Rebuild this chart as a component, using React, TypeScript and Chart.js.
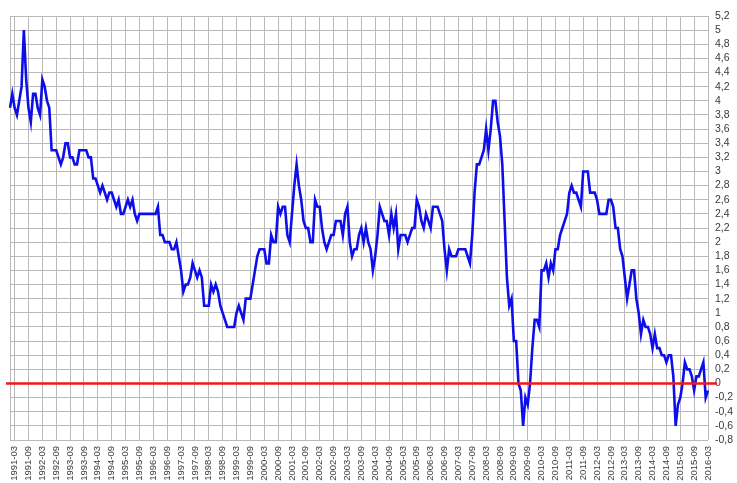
import React, { useEffect, useRef } from 'react';
import { Chart, registerables } from 'chart.js';

Chart.register(...registerables);

// Monthly values, January to December of each year
const Y1991 = [3.9, 4.1, 3.9, 3.8, 4.0, 4.2, 5.0, 4.3, 3.9, 3.7, 4.1, 4.1];
const Y1992 = [3.9, 3.8, 4.3, 4.2, 4.0, 3.9, 3.3, 3.3, 3.3, 3.2, 3.1, 3.2];
const Y1993 = [3.4, 3.4, 3.2, 3.2, 3.1, 3.1, 3.3, 3.3, 3.3, 3.3, 3.2, 3.2];
const Y1994 = [2.9, 2.9, 2.8, 2.7, 2.8, 2.7, 2.6, 2.7, 2.7, 2.6, 2.5, 2.6];
const Y1995 = [2.4, 2.4, 2.5, 2.6, 2.5, 2.6, 2.4, 2.3, 2.4, 2.4, 2.4, 2.4];
const Y1996 = [2.4, 2.4, 2.4, 2.4, 2.5, 2.1, 2.1, 2.0, 2.0, 2.0, 1.9, 1.9];
const Y1997 = [2.0, 1.8, 1.6, 1.3, 1.4, 1.4, 1.5, 1.7, 1.6, 1.5, 1.6, 1.5];
const Y1998 = [1.1, 1.1, 1.1, 1.4, 1.3, 1.4, 1.3, 1.1, 1.0, 0.9, 0.8, 0.8];
const Y1999 = [0.8, 0.8, 1.0, 1.1, 1.0, 0.9, 1.2, 1.2, 1.2, 1.4, 1.6, 1.8];
const Y2000 = [1.9, 1.9, 1.9, 1.7, 1.7, 2.1, 2.0, 2.0, 2.5, 2.4, 2.5, 2.5];
const Y2001 = [2.1, 2.0, 2.4, 2.8, 3.1, 2.8, 2.6, 2.3, 2.2, 2.2, 2.0, 2.0];
const Y2002 = [2.6, 2.5, 2.5, 2.2, 2.0, 1.9, 2.0, 2.1, 2.1, 2.3, 2.3, 2.3];
const Y2003 = [2.1, 2.4, 2.5, 2.0, 1.8, 1.9, 1.9, 2.1, 2.2, 2.0, 2.2, 2.0];
const Y2004 = [1.9, 1.6, 1.8, 2.1, 2.5, 2.4, 2.3, 2.3, 2.1, 2.4, 2.2, 2.4];
const Y2005 = [1.9, 2.1, 2.1, 2.1, 2.0, 2.1, 2.2, 2.2, 2.6, 2.5, 2.3, 2.2];
const Y2006 = [2.4, 2.3, 2.2, 2.5, 2.5, 2.5, 2.4, 2.3, 1.9, 1.6, 1.9, 1.8];
const Y2007 = [1.8, 1.8, 1.9, 1.9, 1.9, 1.9, 1.8, 1.7, 2.1, 2.7, 3.1, 3.1];
const Y2008 = [3.2, 3.3, 3.6, 3.3, 3.6, 4.0, 4.0, 3.7, 3.5, 3.1, 2.3, 1.5];
const Y2009 = [1.1, 1.2, 0.6, 0.6, 0.0, -0.1, -0.6, -0.2, -0.3, 0.0, 0.5, 0.9];
const Y2010 = [0.9, 0.8, 1.6, 1.6, 1.7, 1.5, 1.7, 1.6, 1.9, 1.9, 2.1, 2.2];
const Y2011 = [2.3, 2.4, 2.7, 2.8, 2.7, 2.7, 2.6, 2.5, 3.0, 3.0, 3.0, 2.7];
const Y2012 = [2.7, 2.7, 2.6, 2.4, 2.4, 2.4, 2.4, 2.6, 2.6, 2.5, 2.2, 2.2];
const Y2013 = [1.9, 1.8, 1.5, 1.2, 1.4, 1.6, 1.6, 1.2, 1.0, 0.7, 0.9, 0.8];
const Y2014 = [0.8, 0.7, 0.5, 0.7, 0.5, 0.5, 0.4, 0.4, 0.3, 0.4, 0.4, 0.1];
const Y2015 = [-0.6, -0.3, -0.2, 0.0, 0.3, 0.2, 0.2, 0.1, -0.1, 0.1, 0.1, 0.2];
const Y2016 = [0.3, -0.2, -0.1];

const SERIES = [
  ...Y1991, ...Y1992, ...Y1993, ...Y1994, ...Y1995, ...Y1996, ...Y1997,
  ...Y1998, ...Y1999, ...Y2000, ...Y2001, ...Y2002, ...Y2003, ...Y2004,
  ...Y2005, ...Y2006, ...Y2007, ...Y2008, ...Y2009, ...Y2010, ...Y2011,
  ...Y2012, ...Y2013, ...Y2014, ...Y2015, ...Y2016,
];

const START_YEAR = 1991;
const CATEGORIES = SERIES.map(
  (_, i) => `${START_YEAR + Math.floor(i / 12)}-${String((i % 12) + 1).padStart(2, '0')}`
);
const LABELED_MONTHS = ['03', '09'];

const Y_MIN = -0.8;
const Y_MAX = 5.2;
const Y_STEP = 0.2;
const ZERO_LINE = 0;

const GRID = '#b9b9b9';
const TEXT = '#3a3a3a';

const zeroLinePlugin = {
  id: 'zeroLine',
  afterDatasetsDraw(chart: any) {
    const { ctx, chartArea, scales } = chart;
    const y = scales.y.getPixelForValue(ZERO_LINE);
    ctx.save();
    ctx.strokeStyle = 'rgb(240,24,24)';
    ctx.lineWidth = 2.6;
    ctx.beginPath();
    ctx.moveTo(chartArea.left - 4, y);
    ctx.lineTo(chartArea.right + 9, y);
    ctx.stroke();
    ctx.restore();
  },
};

export default function App() {
  const ref = useRef<HTMLCanvasElement | null>(null);

  useEffect(() => {
    if (!ref.current) return;
    const chart = new Chart(ref.current, {
      type: 'line',
      data: {
        labels: CATEGORIES,
        datasets: [
          {
            data: SERIES,
            borderColor: 'rgb(14,14,235)',
            borderWidth: 2.6,
            pointRadius: 0,
            tension: 0,
            fill: false,
          },
        ],
      },
      options: {
        animation: false,
        responsive: false,
        devicePixelRatio: 1,
        layout: { padding: { left: 10, top: 16, right: 0, bottom: 0 } },
        plugins: { legend: { display: false }, tooltip: { enabled: false } },
        scales: {
          x: {
            type: 'category',
            offset: false,
            afterBuildTicks(scale: any) {
              scale.ticks = scale.ticks.filter((t: any) => {
                const lab = CATEGORIES[t.value];
                return t.value === 0 || LABELED_MONTHS.includes(lab.slice(5));
              });
            },
            afterFit(scale: any) {
              scale.height = 43;
            },
            ticks: {
              autoSkip: false,
              maxRotation: 90,
              minRotation: 90,
              padding: 6,
              color: TEXT,
              font: { family: 'Liberation Sans', size: 9.5 },
              callback(value: any) {
                const lab = CATEGORIES[value];
                return LABELED_MONTHS.includes(lab.slice(5)) ? lab : '';
              },
            },
            grid: { color: GRID, lineWidth: 1, drawTicks: false },
            border: { display: false },
          },
          y: {
            position: 'right',
            min: Y_MIN,
            max: Y_MAX,
            afterFit(scale: any) {
              scale.width = 29;
            },
            ticks: {
              stepSize: Y_STEP,
              autoSkip: false,
              padding: 7,
              color: TEXT,
              font: { family: 'Liberation Sans', size: 10.5 },
              callback(value: any) {
                const n = Math.round(Number(value) * 10) / 10;
                return String(n).replace('.', ',');
              },
            },
            grid: { color: GRID, lineWidth: 1, drawTicks: false },
            border: { display: false },
          },
        },
      },
      plugins: [zeroLinePlugin],
    });
    return () => chart.destroy();
  }, []);

  return (
    <div style={{ position: 'fixed', left: 0, top: 0, width: 737, height: 483, background: '#fff' }}>
      <canvas ref={ref} width={737} height={483} style={{ width: 737, height: 483, display: 'block' }} />
    </div>
  );
}
